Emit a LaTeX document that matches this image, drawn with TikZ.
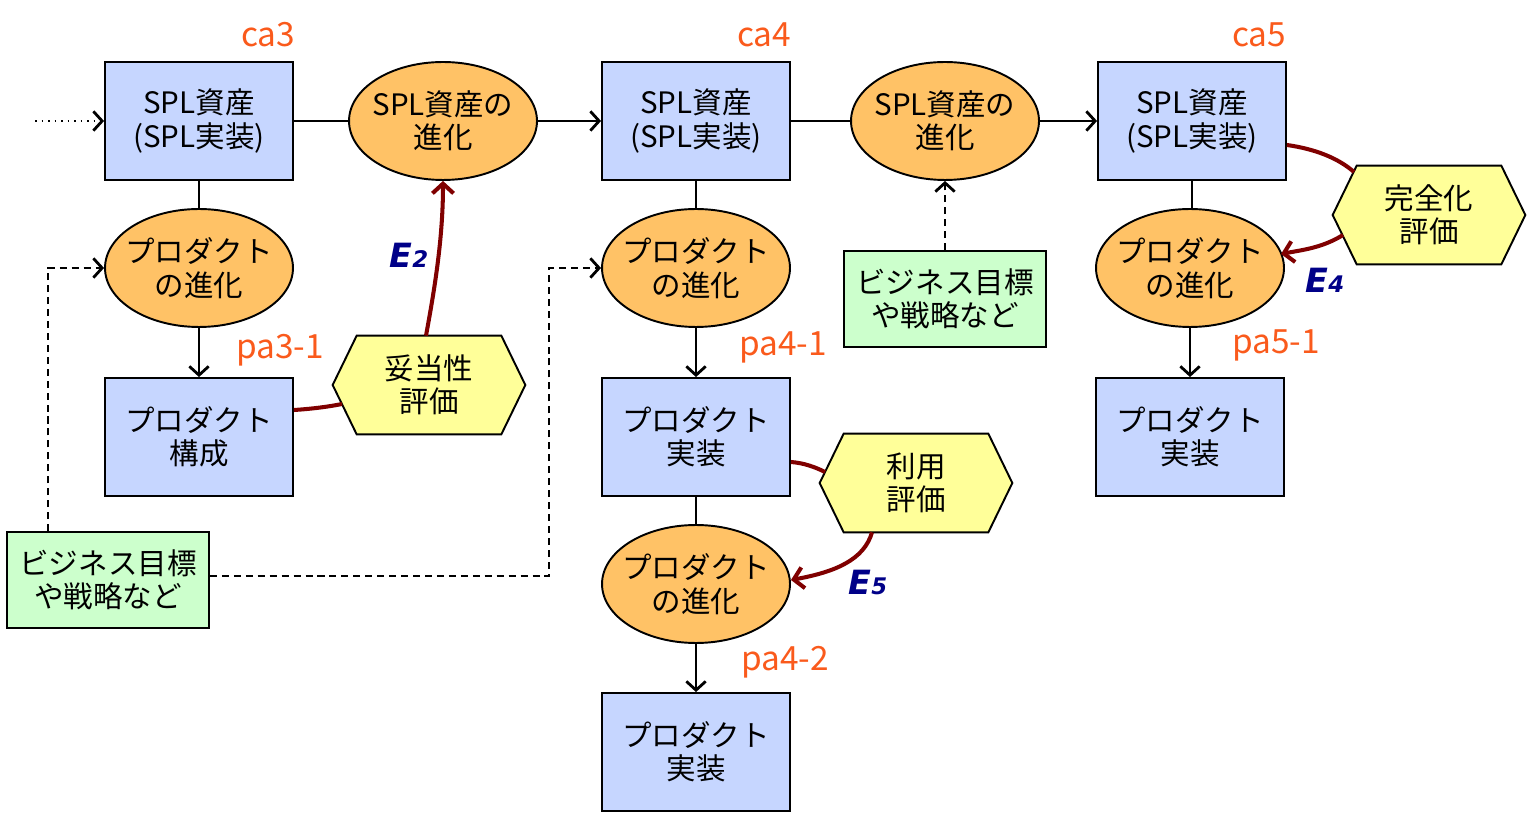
\documentclass[tikz,border=0pt]{standalone}
\usepackage{fontspec}
\setmainfont{Noto Sans CJK JP}
\newfontfamily\efont{DejaVu Sans}
\usetikzlibrary{arrows.meta,calc,shapes.geometric}
\pgfdeclarelayer{background}
\pgfsetlayers{background,main}
\definecolor{boxblue}{HTML}{C6D6FF}
\definecolor{ellorange}{HTML}{FFC266}
\definecolor{hexyellow}{HTML}{FFFF99}
\definecolor{goalgreen}{HTML}{CCFFCC}
\definecolor{evred}{HTML}{800000}
\definecolor{labelorange}{HTML}{FA5A1C}
\definecolor{enavy}{HTML}{000088}
\newcommand\hexframe[1]{%
  \begin{pgfonlayer}{background}
  \draw[hexline] (#1.west) -- ($(#1.north west)+(24,0)$) -- ($(#1.north east)+(-24,0)$)
    -- (#1.east) -- ($(#1.south east)+(-24,0)$) -- ($(#1.south west)+(24,0)$) -- cycle;
  \end{pgfonlayer}}
\newcommand\elabel[1]{{\efont\bfseries\itshape\fontsize{19}{19}\selectfont E\fontsize{13}{13}\selectfont #1}}
\tikzset{
  jp/.style={font=\fontsize{16.8}{19}\selectfont, align=center, text=black},
  box/.style={jp, draw, line width=1.1pt, fill=boxblue, minimum width=3.76cm, minimum height=2.36cm, inner sep=0pt},
  evo/.style={ellipse, draw, line width=1.1pt, fill=ellorange, minimum width=3.76cm, minimum height=2.36cm, inner sep=0pt},
  evotext/.style={jp, inner sep=0pt},
  goal/.style={jp, draw, line width=1.1pt, fill=goalgreen, minimum width=4.04cm, minimum height=1.92cm, inner sep=0pt},
  hexbox/.style={jp, minimum width=3.84cm, minimum height=1.96cm, inner sep=0pt},
  hexline/.style={draw, line width=1.1pt, fill=hexyellow, line join=miter},
  tag/.style={font=\fontsize{19}{19}\selectfont, text=labelorange, inner sep=0pt},
  etag/.style={text=enavy, inner sep=0pt},
  conn/.style={line width=1.1pt},
  arr/.style={-{Straight Barb[length=5pt,width=11pt,line width=1.6pt]}},
  dsh/.style={conn, dash pattern=on 4pt off 2.8pt},
  dot/.style={conn, dash pattern=on 1.1pt off 2.6pt},
  ev/.style={line width=2.3pt, evred},
  evarr/.style={-{Straight Barb[length=5.5pt,width=12pt,line width=2.3pt]}},
}
\begin{document}
\begin{tikzpicture}[x=0.02cm,y=-0.02cm]
\useasboundingbox (0,0) rectangle (1527,813);

% core asset column nodes
\node[box] (c3) at (199,121) {SPL資産\\(SPL実装)};
\node[box] (c4) at (696,121) {SPL資産\\(SPL実装)};
\node[box] (c5) at (1192,121) {SPL資産\\(SPL実装)};
\node[evo, label={[evotext]center:{SPL資産の\\進化}}] (s1) at (443,121) {};
\node[evo, label={[evotext]center:{SPL資産の\\進化}}] (s2) at (945,121) {};

% product evolution
\node[evo, label={[evotext]center:{プロダクト\\の進化}}] (p3e) at (199,268) {};
\node[evo, label={[evotext]center:{プロダクト\\の進化}}] (p4e) at (696,268) {};
\node[evo, label={[evotext]center:{プロダクト\\の進化}}] (p5e) at (1190,268) {};
\node[evo, label={[evotext]center:{プロダクト\\の進化}}] (p42e) at (696,584) {};

\node[box] (b31) at (199,437) {プロダクト\\構成};
\node[box] (b41) at (696,437) {プロダクト\\実装};
\node[box] (b51) at (1190,437) {プロダクト\\実装};
\node[box] (b42) at (696,752) {プロダクト\\実装};

% goals
\node[goal] (g1) at (108,580) {ビジネス目標\\や戦略など};
\node[goal] (g2) at (945,299) {ビジネス目標\\や戦略など};

% hexagons
\node[hexbox] (h1) at (429,385) {妥当性\\評価};
\hexframe{h1}
\node[hexbox] (h2) at (916,483) {利用\\評価};
\hexframe{h2}
\node[hexbox] (h3) at (1429,215) {完全化\\評価};
\hexframe{h3}

% labels
\node[tag] (l1) at (268,35) {ca3};
\node[tag] (l2) at (764,35) {ca4};
\node[tag] (l3) at (1259,35) {ca5};
\node[tag] (l4) at (280,350) {pa3-1};
\node[tag] (l5) at (783,347) {pa4-1};
\node[tag] (l6) at (1276,345) {pa5-1};
\node[tag] (l7) at (785,662) {pa4-2};

\node[etag] (e2) at (409,255) {\elabel{2}};
\node[etag] (e4) at (1325,280) {\elabel{4}};
\node[etag] (e5) at (868,582) {\elabel{5}};

% main chain
\coordinate (in) at (35,121);
\draw[dot,arr] (in) -- (c3);
\draw[conn] (c3) -- (s1);
\draw[conn,arr] (s1) -- (c4);
\draw[conn] (c4) -- (s2);
\draw[conn,arr] (s2) -- (c5);

% vertical chains
\draw[conn] (c3) -- (p3e);
\draw[conn,arr] (p3e) -- (b31);
\draw[conn] (c4) -- (p4e);
\draw[conn,arr] (p4e) -- (b41);
\draw[conn] (b41) -- (p42e);
\draw[conn,arr] (p42e) -- (b42);
\draw[conn] (c5.south) -- (c5.south |- p5e.north);
\draw[conn,arr] (p5e) -- (b51);

% dashed influences
\draw[dsh,arr] ($(g1.north west)+(42,0)$) |- (p3e);
\coordinate (k1) at (549,576);
\draw[dsh,arr] ($(g1.east)+(0,-4)$) -- (k1) |- (p4e);
\draw[dsh,arr] (g2) -- (s2);

% evaluation curves
\draw[ev] ($(b31.east)+(0,-27)$) .. controls (310,409) and (327,407) .. ($(h1.center)+(-87,19)$);
\draw[ev,evarr] ($(h1.north)+(-3,0)$) .. controls (434,292) and (443,240) .. (s1.south);
\draw[ev] ($(c5.east)+(0,24)$) .. controls (1315,149) and (1338,158) .. ($(h3.center)+(-75,-43)$);
\draw[ev,evarr] ($(h3.center)+(-86,20)$) .. controls (1322,248) and (1302,250) .. ($(p5e.center)+(91,-14)$);
\draw[ev] ($(b41.east)+(0,25)$) .. controls (804,463) and (815,467) .. ($(h2.center)+(-91,-11)$);
\draw[ev,evarr] ($(h2.south)+(-44,0)$) .. controls (864,560) and (835,572) .. ($(p42e.east)+(0,-4)$);
\end{tikzpicture}
\end{document}
